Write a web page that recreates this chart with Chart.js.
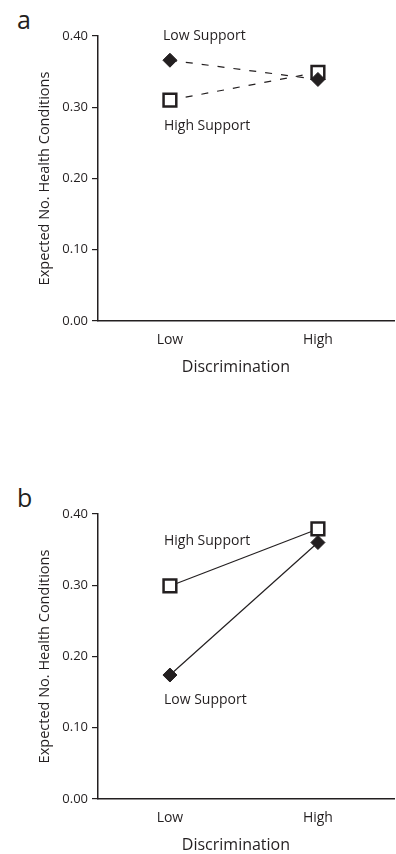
<!DOCTYPE html>
<html lang="en">
<head>
  <meta charset="UTF-8">
  <title>Discrimination and health conditions</title>
  <meta name="viewport" content="width=device-width, initial-scale=1">
  <style>
    body {
      margin: 0;
      padding: 0;
      background: #fff;
      overflow: hidden;
      font-family: 'Open Sans', sans-serif;
      color: #231f20;
    }
    .panel {
      position: absolute;
      left: 0;
      width: 396px;
      height: 376px;
    }
    .letter {
      position: absolute;
      left: 17px;
      font-size: 25px;
      line-height: 26px;
    }
  </style>
</head>
<body>

<div class="letter" style="top: 6px;">a</div>
<div class="panel" style="top: 0;"><canvas id="chartA"></canvas></div>

<div class="letter" style="top: 484px;">b</div>
<div class="panel" style="top: 478px;"><canvas id="chartB"></canvas></div>

<script src="https://cdn.jsdelivr.net/npm/chart.js"></script>
<script>
  // x categories and y ticks
  const categories = ['Low', 'High'];
  const yTicks = [0, 0.1, 0.2, 0.3, 0.4];

  // panel a
  const aLowSupport = [0.366, 0.339];
  const aHighSupport = [0.310, 0.349];

  // panel b
  const bLowSupport = [0.174, 0.360];
  const bHighSupport = [0.299, 0.379];

  const ink = '#231f20';
  const font = "'Open Sans', sans-serif";

  // series names next to the lines, and the x axis title
  const textPlugin = {
    id: 'textPlugin',
    afterDatasetsDraw(chart, args, opts) {
      const { ctx, chartArea, scales: { x, y } } = chart;
      ctx.save();
      ctx.fillStyle = ink;
      ctx.textBaseline = 'middle';
      ctx.textAlign = 'left';
      ctx.font = '14px ' + font;
      opts.items.forEach(item => {
        ctx.fillText(item.text, x.getPixelForValue(item.at) + item.dx, y.getPixelForValue(item.y));
      });
      ctx.textAlign = 'center';
      ctx.font = '16px ' + font;
      const mid = (x.getPixelForValue(0) + x.getPixelForValue(categories.length - 1)) / 2;
      ctx.fillText('Discrimination', mid - 8, chartArea.bottom + 46);
      ctx.restore();
    }
  };

  function makeChart(id, lowData, highData, dash, labelItems) {
    const lineStyle = { borderColor: ink, borderWidth: 1.2, borderDash: dash, tension: 0 };
    const toPoints = arr => arr.map((v, i) => ({ x: i, y: v }));
    new Chart(document.getElementById(id), {
      type: 'line',
      data: {
        datasets: [
          Object.assign({
            label: 'Low Support',
            data: toPoints(lowData),
            pointStyle: 'rectRot',
            pointRadius: 7,
            pointBackgroundColor: ink,
            pointBorderColor: ink,
            pointBorderWidth: 1
          }, lineStyle),
          Object.assign({
            label: 'High Support',
            data: toPoints(highData),
            pointStyle: 'rect',
            pointRadius: 9,
            pointBackgroundColor: '#fff',
            pointBorderColor: ink,
            pointBorderWidth: 2.5
          }, lineStyle)
        ]
      },
      options: {
        responsive: true,
        maintainAspectRatio: false,
        animation: false,
        layout: { autoPadding: false, padding: { top: 36, right: 2, left: 0, bottom: 0 } },
        plugins: {
          legend: { display: false },
          tooltip: { enabled: false },
          textPlugin: { items: labelItems }
        },
        scales: {
          x: {
            type: 'linear',
            min: -0.486,
            max: 1.514,
            afterBuildTicks(scale) { scale.ticks = categories.map((c, i) => ({ value: i })); },
            grid: { display: true, drawOnChartArea: false, drawTicks: false },
            border: { display: true, color: ink, width: 1.5 },
            ticks: {
              color: ink,
              font: { family: font, size: 14 },
              padding: 11,
              callback: v => categories[v]
            },
            afterFit(scale) {
              scale.height = 55;
              scale.paddingLeft = 0;
              scale.paddingRight = 0;
            }
          },
          y: {
            min: 0,
            max: 0.4,
            afterBuildTicks(scale) { scale.ticks = yTicks.map(v => ({ value: v })); },
            grid: { display: true, drawOnChartArea: false, drawTicks: true, tickLength: 6, color: ink, lineWidth: 1.2 },
            border: { display: true, color: ink, width: 1.5 },
            ticks: {
              color: ink,
              font: { family: font, size: 13 },
              padding: 4,
              callback: v => v.toFixed(2)
            },
            title: {
              display: true,
              text: 'Expected No. Health Conditions',
              color: ink,
              font: { family: font, size: 14.5 },
              padding: { top: 36, bottom: 0 }
            },
            afterFit(scale) { scale.width = 98; }
          }
        }
      },
      plugins: [textPlugin]
    });
  }

  makeChart('chartA', aLowSupport, aHighSupport, [7, 9], [
    { text: 'Low Support', at: 0, dx: -7, y: 0.400 },
    { text: 'High Support', at: 0, dx: -6, y: 0.273 }
  ]);

  makeChart('chartB', bLowSupport, bHighSupport, [], [
    { text: 'High Support', at: 0, dx: -6, y: 0.362 },
    { text: 'Low Support', at: 0, dx: -6, y: 0.139 }
  ]);
</script>

</body>
</html>
